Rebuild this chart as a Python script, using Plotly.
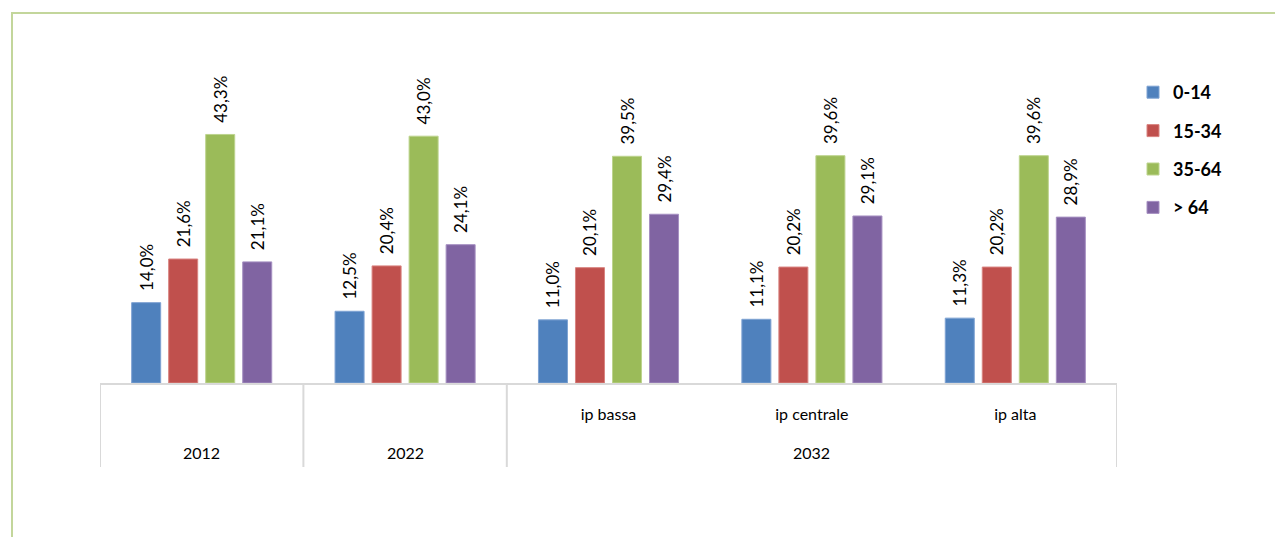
import plotly.graph_objects as go

categories = ["g2012", "g2022", "ip bassa", "ip centrale", "ip alta"]
tick_labels = ["", "", "ip bassa", "ip centrale", "ip alta"]
group_labels = ["2012", "2022", "2032"]
group_centers = ["g2012", "g2022", "ip centrale"]

series_names = ["0-14", "15-34", "35-64", "> 64"]
v_0_14 = [14.0, 12.5, 11.0, 11.1, 11.3]
v_15_34 = [21.6, 20.4, 20.1, 20.2, 20.2]
v_35_64 = [43.3, 43.0, 39.5, 39.6, 39.6]
v_over64 = [21.1, 24.1, 29.4, 29.1, 28.9]
series_values = [v_0_14, v_15_34, v_35_64, v_over64]
colors = ["#4f81bd", "#c0504d", "#9bbb59", "#8064a2"]
edge_colors = ["#7fa3d3", "#d98481", "#bdd48e", "#a690c2"]

FONT = "Lato, 'Open Sans', sans-serif"
PAD = "\u00a0\u00a0"

fig = go.Figure()
for name, vals, c, ec in zip(series_names, series_values, colors, edge_colors):
    fig.add_trace(go.Bar(
        x=categories, y=vals, name=name,
        marker=dict(color=c, line=dict(color=ec, width=1)),
        text=[PAD + f"{v:.1f}%".replace(".", ",") for v in vals],
        textposition="outside", textangle=-90, constraintext="none",
        textfont=dict(family=FONT, size=17, color="#000000"),
        cliponaxis=False, legendgroup=name,
    ))

# page has an 8px body margin: work in figure coordinates
OFF = 8
W, H = 1283 - OFF, 537 - OFF
L, R, T, B = 100 - OFF, 1117 - OFF, 96 - OFF, 383 - OFF
PH = B - T

def py(page_y):
    return (B - (page_y - OFF)) / PH

def px(page_x):
    return ((page_x - OFF) - L) / (R - L)

n = len(categories)
fig.update_layout(
    width=W, height=H,
    margin=dict(l=L, r=W - R, t=T, b=H - B, autoexpand=False),
    paper_bgcolor="white", plot_bgcolor="white",
    barmode="group", bargap=0.272, bargroupgap=0.216,
    font=dict(family=FONT, size=16, color="#000000"),
    showlegend=True,
    legend=dict(
        x=px(1133), xanchor="left",
        y=py(74), yanchor="top",
        font=dict(family=FONT, size=18, color="#000000", weight="bold"),
        tracegroupgap=12, itemwidth=30, bgcolor="rgba(0,0,0,0)",
    ),
)
fig.update_xaxes(
    type="category", categoryorder="array", categoryarray=categories,
    range=[-0.5, n - 0.5],
    tickmode="array", tickvals=categories, ticktext=tick_labels, tickangle=0,
    showline=True, linecolor="#d9d9d9", linewidth=2,
    tickfont=dict(family=FONT, size=16, color="#000000"),
    ticks="", ticklabelstandoff=16, showgrid=False, zeroline=False,
)
fig.update_yaxes(range=[0, 50], visible=False, showgrid=False, zeroline=False)

# outer group labels (years)
for lab, cx in zip(group_labels, group_centers):
    fig.add_annotation(x=categories.index(cx), xref="x", y=py(452), yref="paper", text=lab,
                       showarrow=False, yanchor="middle",
                       font=dict(family=FONT, size=16, color="#000000"))

# group dividers at category boundaries
for b in [-0.5, 0.5, 1.5, n - 0.5]:
    fig.add_shape(type="line", xref="x", yref="paper", x0=b, x1=b,
                  y0=0, y1=py(467), line=dict(color="#d9d9d9", width=2))

# outer chart border (light green), extends beyond the visible canvas right/bottom
fig.add_shape(type="rect", xref="paper", yref="paper",
              x0=px(12), x1=px(1400), y0=py(700), y1=py(13),
              line=dict(color="#c3d69b", width=2), fillcolor="rgba(0,0,0,0)", layer="below")

fig.write_html("out.html")
